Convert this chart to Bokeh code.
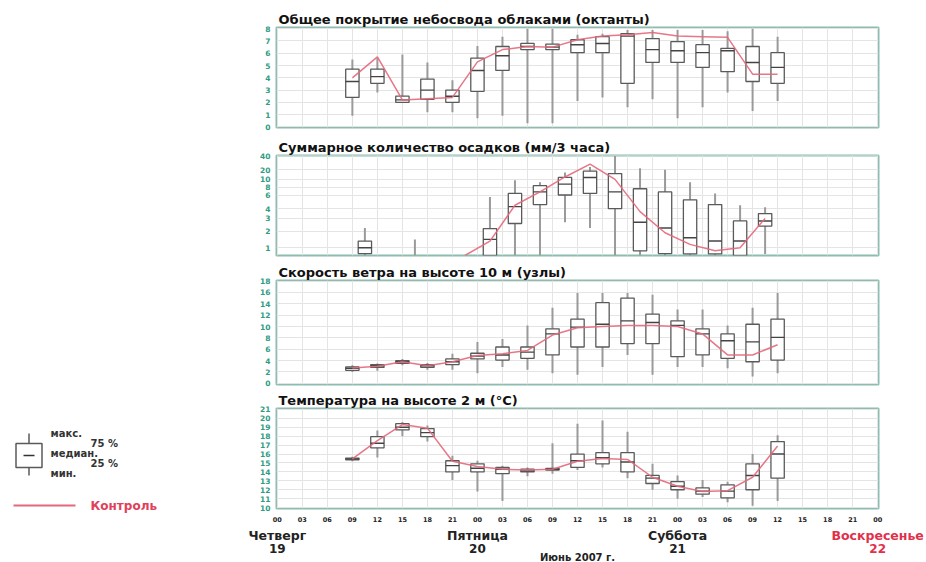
import numpy as np
from bokeh.plotting import figure
from bokeh.models import Range1d, LinearAxis, FixedTicker, Grid
from bokeh.layouts import row, column
from bokeh.core.properties import value
from bokeh.embed import file_html
from bokeh.resources import INLINE

# ---------------- data ----------------
hours = [9, 12, 15, 18, 21, 24, 27, 30, 33, 36, 39, 42, 45, 48, 51, 54, 57, 60]

cloud_min = [0.9, 2.8, 2.0, 1.2, 1.2, 0.7, 0.9, 0.3, 0.3, 2.1, 2.4, 1.6, 2.25, 0.7, 1.6, 2.8, 1.3, 2.1]
cloud_q25 = [2.4, 3.55, 2.0, 2.25, 2.0, 2.9, 4.6, 6.3, 6.3, 6.05, 6.05, 3.55, 5.25, 5.25, 4.85, 4.5, 3.7, 3.55]
cloud_med = [3.7, 4.1, 2.2, 3.0, 2.5, 4.6, 5.8, 6.55, 6.5, 6.7, 6.8, 7.4, 6.3, 6.2, 6.05, 6.2, 5.25, 4.85]
cloud_q75 = [4.7, 4.7, 2.5, 3.9, 3.0, 5.6, 6.55, 6.8, 6.75, 7.1, 7.35, 7.6, 7.2, 6.95, 6.7, 6.4, 6.55, 6.05]
cloud_max = [5.5, 5.6, 5.9, 5.25, 3.8, 6.6, 7.35, 8.0, 8.0, 7.5, 7.6, 7.9, 7.9, 7.9, 7.9, 7.8, 8.0, 7.35]
cloud_ctrl = [4.0, 5.7, 2.2, 2.3, 2.4, 5.3, 6.3, 6.55, 6.5, 7.1, 7.4, 7.5, 7.7, 7.4, 7.35, 7.3, 4.3, 4.3]

precip_hours = [10.5, 16.5, 25.5, 28.5, 31.5, 34.5, 37.5, 40.5, 43.5, 46.5, 49.5, 52.5, 55.5, 58.5]
precip_min = [0, 0, 0, 0, 0, 2.7, 2.25, 0, 0, 0, 0, 0, 0, 0.2]
precip_q25 = [0.25, 0, 0, 2.6, 4.6, 6.0, 6.4, 4.0, 0.6, 0.25, 0.2, 0.2, 0, 2.4]
precip_med = [1.0, 0, 1.5, 4.3, 6.8, 8.8, 12, 6.8, 2.7, 2.25, 1.6, 1.4, 1.4, 2.8]
precip_q75 = [1.4, 0, 2.2, 6.4, 8.4, 12, 18.5, 16, 7.6, 6.8, 5.3, 4.6, 2.8, 3.5]
precip_max = [2.25, 1.5, 5.7, 9.8, 9.3, 17, 24, 40, 22, 20, 9.3, 6.4, 4.5, 4.2]
precip_ctrl_hours = [22.5, 25.5, 28.5, 31.5, 34.5, 37.5, 40.5, 43.5, 46.5, 49.5, 52.5, 55.5, 58.5]
precip_ctrl = [0, 1.4, 4.5, 6.8, 12.5, 28, 10, 3.7, 1.9, 1.2, 0.6, 1.0, 3.0]
# non-linear precipitation scale: tick values and their relative positions
precip_tick_vals = [0, 1, 2, 3, 4, 6, 8, 10, 20, 40]
precip_tick_pos = [0, 8, 25, 38, 48, 62, 70, 78, 88, 102]

wind_min = [2.0, 2.2, 3.2, 2.4, 2.4, 1.8, 2.9, 2.4, 1.8, 1.5, 2.9, 5.0, 1.5, 2.9, 2.9, 2.65, 1.2, 1.8]
wind_q25 = [2.3, 2.8, 3.5, 2.8, 3.3, 4.3, 4.1, 4.4, 5.0, 6.4, 6.4, 7.0, 7.0, 4.7, 5.0, 4.4, 3.8, 4.1]
wind_med = [2.65, 3.1, 3.8, 3.1, 3.8, 4.8, 5.0, 5.5, 8.7, 9.9, 10.4, 11.0, 10.7, 10.2, 8.7, 7.5, 7.3, 8.1]
wind_q75 = [2.9, 3.3, 4.0, 3.3, 4.3, 5.3, 6.4, 6.4, 9.6, 11.3, 14.2, 15.0, 12.2, 11.0, 9.6, 8.7, 10.4, 11.3]
wind_max = [3.2, 3.5, 4.3, 3.6, 5.2, 7.3, 7.8, 10.2, 13.3, 15.9, 15.9, 15.9, 15.6, 13.0, 13.0, 10.2, 13.3, 15.9]
wind_ctrl = [2.7, 3.0, 3.8, 3.1, 3.8, 4.9, 5.2, 5.8, 8.5, 9.8, 10.0, 10.2, 10.2, 10.0, 8.7, 5.0, 5.0, 6.8]

temp_min = [15.2, 15.6, 18.0, 17.4, 13.1, 11.8, 10.75, 13.5, 13.8, 14.2, 14.5, 13.3, 12.0, 11.0, 11.2, 10.6, 10.2, 10.75]
temp_q25 = [15.35, 16.7, 18.7, 17.95, 14.0, 14.0, 13.8, 14.0, 14.2, 14.5, 14.9, 14.0, 12.7, 12.0, 11.5, 11.1, 12.0, 13.3]
temp_med = [15.45, 17.2, 19.0, 18.4, 14.7, 14.4, 14.3, 14.1, 14.3, 15.25, 15.6, 15.1, 13.3, 12.4, 11.85, 11.85, 13.6, 16.0]
temp_q75 = [15.55, 17.95, 19.4, 18.85, 15.25, 14.9, 14.5, 14.3, 14.4, 16.0, 16.15, 16.15, 13.6, 12.9, 12.2, 12.55, 14.9, 17.4]
temp_max = [15.7, 18.65, 19.6, 19.2, 15.8, 15.25, 14.7, 14.5, 17.2, 19.4, 19.75, 18.5, 14.9, 13.6, 13.1, 12.9, 16.0, 18.1]
temp_ctrl = [15.45, 17.5, 19.3, 18.9, 15.2, 14.6, 14.3, 14.2, 14.3, 15.2, 15.5, 15.4, 13.4, 12.4, 11.8, 11.9, 13.4, 16.9]

cloud_ticks = [0, 1, 2, 3, 4, 5, 6, 7, 8]
wind_ticks = [0, 2, 4, 6, 8, 10, 12, 14, 16, 18]
temp_ticks = [10, 11, 12, 13, 14, 15, 16, 17, 18, 19, 20, 21]
hour_ticks = [0, 3, 6, 9, 12, 15, 18, 21, 24, 27, 30, 33, 36, 39, 42, 45, 48, 51, 54, 57, 60, 63, 66, 69, 72]
hour_labels = ["00", "03", "06", "09", "12", "15", "18", "21",
               "00", "03", "06", "09", "12", "15", "18", "21",
               "00", "03", "06", "09", "12", "15", "18", "21", "00"]
day_hours = [0, 24, 48, 72]
day_names = ["Четверг", "Пятница", "Суббота", "Воскресенье"]
day_numbers = ["19", "20", "21", "22"]
day_colors = ["#222222", "#222222", "#222222", "#e0304a"]
month_text = "Июнь 2007 г."

titles = ["Общее покрытие небосвода облаками (октанты)",
          "Суммарное количество осадков (мм/3 часа)",
          "Скорость ветра на высоте 10 м (узлы)",
          "Температура на высоте 2 м (°C)"]

legend_labels = ["макс.", "75 %", "медиан.", "25 %", "мин."]
control_label = "Контроль"

# ---------------- style / layout ----------------
FONT = "DejaVu Sans"
TEAL = "#2e9c82"
OUTLINE = "#8dbcb0"
GRID = "#e4e4e4"
BOXC = "#5a5a5a"
WHISK = "#9a9a9a"
RED = "#e4687a"
BOXW = 1.6
XR = (-0.1, 72.1)
LEGW = 238
WIDTH = 688
BL, BR = 38, 48           # left / right borders of the panels
PAGEW = LEGW + WIDTH


def to_precip_scale(v):
    return np.interp(np.asarray(v, dtype=float), precip_tick_vals, precip_tick_pos)


def make_panel(height, top, bottom, yr, yticks, title, overrides=None):
    p = figure(width=WIDTH, height=height, x_range=Range1d(*XR), y_range=Range1d(*yr),
               output_backend="svg", toolbar_location=None,
               x_axis_location=None, y_axis_location=None,
               min_border_left=BL, min_border_right=BR,
               min_border_top=top, min_border_bottom=bottom,
               background_fill_color="white", border_fill_color="white",
               outline_line_color=OUTLINE, outline_line_width=2, title=title)
    p.title.text_font = FONT
    p.title.text_font_size = "13px"
    p.title.text_font_style = "bold"
    p.title.text_color = "#111111"
    p.title.align = "left"
    p.title.offset = 2
    p.title.standoff = 2
    p.grid.visible = False
    ax = LinearAxis(ticker=FixedTicker(ticks=yticks), axis_line_color=None,
                    major_tick_line_color=None, minor_tick_line_color=None,
                    major_tick_out=0, major_tick_in=0,
                    major_label_text_color=TEAL, major_label_text_font=FONT,
                    major_label_text_font_size="7.5px", major_label_text_font_style="bold",
                    major_label_standoff=6)
    if overrides:
        ax.major_label_overrides = overrides
    p.add_layout(ax, "left")
    p.add_layout(Grid(dimension=0, ticker=FixedTicker(ticks=hour_ticks), grid_line_color=GRID))
    p.add_layout(Grid(dimension=1, ticker=FixedTicker(ticks=yticks), grid_line_color=GRID))
    return p


def draw_boxes(p, x, mn, q25, med, q75, mx, cx, ctrl):
    x = np.asarray(x, dtype=float)
    p.segment(x0=x, y0=mn, x1=x, y1=mx, line_color=WHISK, line_width=2)
    q25 = np.asarray(q25, dtype=float)
    q75 = np.asarray(q75, dtype=float)
    keep = q75 > q25
    p.vbar(x=x[keep], width=BOXW, bottom=q25[keep], top=q75[keep],
           fill_color="white", line_color=BOXC, line_width=1.3)
    medv = np.asarray(med, dtype=float)
    p.segment(x0=x[keep] - BOXW / 2, y0=medv[keep], x1=x[keep] + BOXW / 2, y1=medv[keep],
              line_color="#444444", line_width=1.4)
    p.line(cx, ctrl, line_color=RED, line_width=1.5, line_alpha=0.9)


# panel 1: cloud cover
p1 = make_panel(136, 27, 9, (-0.05, 8.1), cloud_ticks, titles[0])
draw_boxes(p1, hours, cloud_min, cloud_q25, cloud_med, cloud_q75, cloud_max, hours, cloud_ctrl)

# panel 2: precipitation (non-linear scale)
p2 = make_panel(125, 17, 6, (0, 102.5), precip_tick_pos[1:], titles[1],
                overrides={pos: str(v) for pos, v in zip(precip_tick_pos[1:], precip_tick_vals[1:])})
draw_boxes(p2, precip_hours, to_precip_scale(precip_min), to_precip_scale(precip_q25),
           to_precip_scale(precip_med), to_precip_scale(precip_q75), to_precip_scale(precip_max),
           precip_ctrl_hours, to_precip_scale(precip_ctrl))

# panel 3: wind
p3 = make_panel(128, 19, 5, (-0.2, 18.1), wind_ticks, titles[2])
draw_boxes(p3, hours, wind_min, wind_q25, wind_med, wind_q75, wind_max, hours, wind_ctrl)

# panel 4: temperature + hour axis
p4 = make_panel(136, 17, 17, (9.9, 21.1), temp_ticks, titles[3])
draw_boxes(p4, hours, temp_min, temp_q25, temp_med, temp_q75, temp_max, hours, temp_ctrl)
xa = LinearAxis(ticker=FixedTicker(ticks=hour_ticks),
                major_label_overrides={h: l for h, l in zip(hour_ticks, hour_labels)},
                axis_line_color=None, major_tick_line_color=None, minor_tick_line_color=None,
                major_tick_out=0, major_tick_in=0,
                major_label_text_font=FONT, major_label_text_font_size="6.5px",
                major_label_text_font_style="bold", major_label_text_color="#222222",
                major_label_standoff=8)
p4.add_layout(xa, "below")

PANELS_H = 136 + 125 + 128 + 136

# day labels strip across the full page width, using the same hour scale
H5 = 37
kpx = (WIDTH - BL - BR) / (XR[1] - XR[0])
x5 = (XR[0] - (LEGW + BL) / kpx, XR[1] + BR / kpx)
p5 = figure(width=PAGEW, height=H5, x_range=Range1d(*x5), y_range=Range1d(H5, 0),
            output_backend="svg", toolbar_location=None, x_axis_location=None,
            y_axis_location=None, min_border=0, min_border_left=0, min_border_right=0,
            min_border_top=0, min_border_bottom=0, outline_line_color=None,
            background_fill_color="white", border_fill_color="white")
p5.grid.visible = False
p5.text(x=day_hours, y=[10] * 4, text=day_names, text_color=day_colors,
        text_font=value(FONT), text_font_style="bold", text_font_size="12.5px",
        text_align="center", text_baseline="middle")
p5.text(x=day_hours, y=[23] * 4, text=day_numbers, text_color=day_colors,
        text_font=value(FONT), text_font_style="bold", text_font_size="12px",
        text_align="center", text_baseline="middle")
p5.text(x=[(XR[0] + XR[1]) / 2], y=[32], text=[month_text], text_color="#222222",
        text_font=value(FONT), text_font_style="bold", text_font_size="10px",
        text_align="center", text_baseline="middle")

# ---------------- legend (left) ----------------
lg = figure(width=LEGW, height=PANELS_H, x_range=Range1d(0, LEGW), y_range=Range1d(PANELS_H, 0),
            output_backend="svg", toolbar_location=None, x_axis_location=None,
            y_axis_location=None, min_border=0, outline_line_color=None,
            background_fill_color="white", border_fill_color="white")
lg.grid.visible = False
lg.segment(x0=[28.5], y0=[433], x1=[28.5], y1=[475], line_color=BOXC, line_width=1.5)
lg.rect(x=[28.5], y=[455], width=26, height=24, fill_color="white", line_color=BOXC, line_width=1.5)
lg.segment(x0=[23], y0=[455], x1=[34], y1=[455], line_color="#333333", line_width=1.5)
lg.text(x=[50, 90, 50, 90, 50], y=[433, 443, 453, 463, 473], text=legend_labels,
        text_font=value(FONT), text_font_size="10px",
        text_font_style="bold", text_color="#333333", text_baseline="middle", text_align="left")
lg.segment(x0=[13], y0=[505], x1=[75], y1=[505], line_color=RED, line_width=2)
lg.text(x=[90], y=[505], text=[control_label], text_font=value(FONT), text_font_size="12px",
        text_font_style="bold", text_color="#e0405a", text_baseline="middle", text_align="left")

layout = column(row(lg, column(p1, p2, p3, p4, spacing=0), spacing=0), p5, spacing=0)
open("out.html", "w").write(file_html(layout, INLINE))
